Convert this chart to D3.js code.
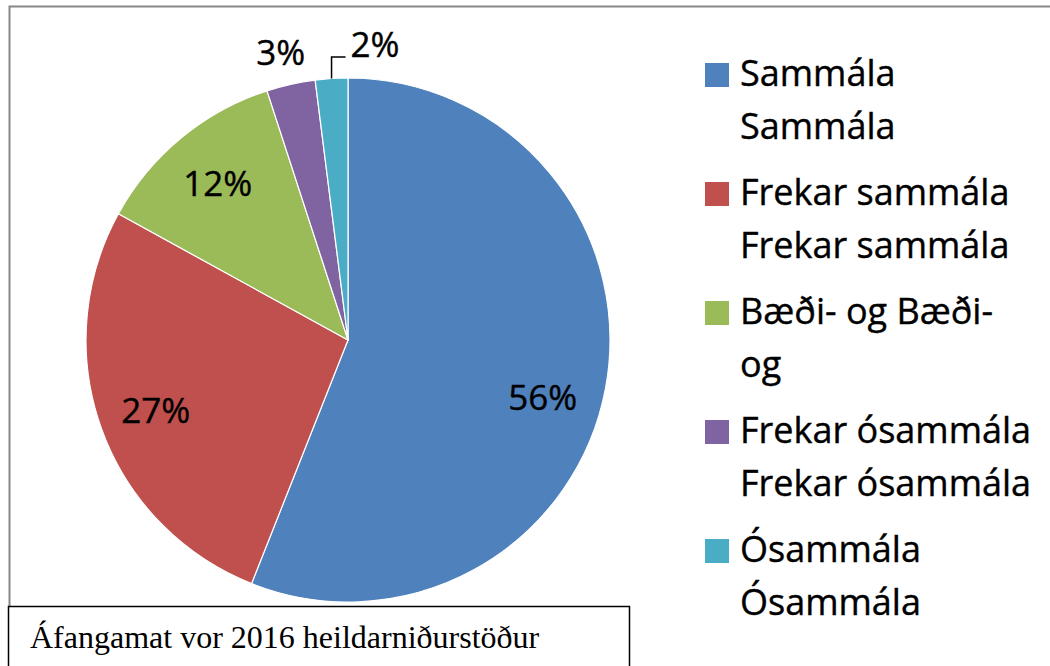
<!DOCTYPE html>
<html>
<head>
<meta charset="utf-8">
<script src="https://cdn.jsdelivr.net/npm/d3@7"></script>
<style>
  body { margin: 0; background: #fff; }
  text { font-family: "Open Sans", sans-serif; }
  .sans { stroke: #000; stroke-width: 0.4; }
</style>
</head>
<body>
<svg id="chart" width="1050" height="666"></svg>
<script>
// data
const categories = ["Sammála", "Frekar sammála", "Bæði- og", "Frekar ósammála", "Ósammála"];
const values = [56, 27, 12, 3, 2];
const legendLines = [
  ["Sammála", "Sammála"],
  ["Frekar sammála", "Frekar sammála"],
  ["Bæði- og Bæði-", "og"],
  ["Frekar ósammála", "Frekar ósammála"],
  ["Ósammála", "Ósammála"]
];
const colors = ["#4F81BD", "#C0504D", "#9BBB59", "#8064A2", "#4BACC6"];

const svg = d3.select("#chart");
const cx = 348, cy = 340, radius = 262;

// outer chart frame (runs off the page right and bottom)
svg.append("rect")
  .attr("x", 9.5).attr("y", 6.5)
  .attr("width", 1100).attr("height", 700)
  .attr("fill", "none")
  .attr("stroke", "#888").attr("stroke-width", 2);

const pie = d3.pie().sort(null).value(d => d);
const arcs = pie(values);
const arc = d3.arc().innerRadius(0).outerRadius(radius);
const labelArc = d3.arc().innerRadius(radius * 0.78).outerRadius(radius * 0.78);

const g = svg.append("g").attr("transform", `translate(${cx},${cy})`);

g.selectAll("path.slice")
  .data(arcs)
  .enter()
  .append("path")
  .attr("class", "slice")
  .attr("d", arc)
  .attr("fill", (d, i) => colors[i])
  .attr("stroke", "#fff")
  .attr("stroke-width", 1.2);

// inside labels for the big slices (largest one sits a bit lower, like Excel's best fit)
g.selectAll(".lbl-in")
  .data(arcs.filter(d => d.data >= 10))
  .enter()
  .append("text")
  .attr("class", "lbl-in sans")
  .attr("x", d => labelArc.centroid(d)[0] - (d.data > 50 ? 6 : 0))
  .attr("y", d => labelArc.centroid(d)[1] + (d.data > 50 ? 18 : 0))
  .attr("text-anchor", "middle")
  .attr("dominant-baseline", "central")
  .attr("font-size", 35)
  .attr("fill", "#000")
  .text(d => d.data + "%");

// outside labels for the small slices
const small = arcs.filter(d => d.data < 10);
const edge = d3.arc().innerRadius(radius).outerRadius(radius);

// 3% : just above its slice
const d3pct = small[0];
const p3 = d3.arc().innerRadius(radius + 33).outerRadius(radius + 33).centroid(d3pct);
g.append("text")
  .attr("class", "sans")
  .attr("x", p3[0] - 3).attr("y", p3[1] + 13)
  .attr("text-anchor", "middle")
  .attr("font-size", 35)
  .text(d3pct.data + "%");

// 2% : with leader line
const d2pct = small[1];
const e2 = edge.centroid(d2pct);
const bendY = -radius - 21;
g.append("path")
  .attr("d", `M${e2[0]},${e2[1]} L${e2[0]},${bendY} L${e2[0] + 14},${bendY}`)
  .attr("fill", "none")
  .attr("stroke", "#000")
  .attr("stroke-width", 1.5);
g.append("text")
  .attr("class", "sans")
  .attr("x", e2[0] + 19).attr("y", bendY)
  .attr("font-size", 35)
  .text(d2pct.data + "%");

// legend
const legend = svg.append("g").attr("transform", "translate(705,63)");
const item = legend.selectAll(".item")
  .data(categories)
  .enter()
  .append("g")
  .attr("class", "item")
  .attr("transform", (d, i) => `translate(0,${i * 119})`);

item.append("rect")
  .attr("width", 24).attr("height", 24)
  .attr("fill", (d, i) => colors[i]);

item.each(function(d, i) {
  const t = d3.select(this).append("text")
    .attr("class", "sans")
    .attr("x", 35).attr("y", 23)
    .attr("font-size", 36)
    .attr("fill", "#000");
  legendLines[i].forEach((line, j) => {
    t.append("tspan").attr("x", 35).attr("dy", j === 0 ? 0 : 53).text(line);
  });
});

// title box at bottom
svg.append("rect")
  .attr("x", 8.5).attr("y", 606.5)
  .attr("width", 621).attr("height", 80)
  .attr("fill", "#fff")
  .attr("stroke", "#000").attr("stroke-width", 1.5);
svg.append("text")
  .attr("x", 30).attr("y", 648)
  .style("font-family", "'Liberation Serif', 'Times New Roman', serif")
  .attr("font-size", 32)
  .text("Áfangamat vor 2016 heildarniðurstöður");
</script>
</body>
</html>
